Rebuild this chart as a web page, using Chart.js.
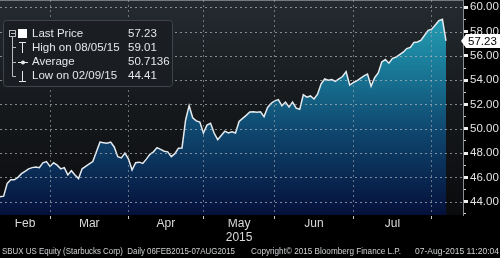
<!DOCTYPE html>
<html>
<head>
<meta charset="utf-8">
<script src="https://cdn.jsdelivr.net/npm/chart.js@4/dist/chart.umd.min.js"></script>
<style>
  html, body { margin: 0; padding: 0; background: #000; }
  canvas { display: block; }
</style>
</head>
<body>
<canvas id="sbuxChart" width="500" height="258"></canvas>
<script>
// SBUX daily closes, one per trading day 06 Feb 2015 .. 07 Aug 2015
const closePrices = [
  44.60, 44.41, 44.45, 45.50, 45.80, 45.80, 46.00, 46.30, 46.50, 46.70,
  46.80, 46.85, 46.80, 47.20, 47.30, 46.90, 47.20, 47.00, 46.70, 46.80,
  46.20, 46.55, 46.20, 45.90, 46.70, 46.90, 47.10, 47.30, 48.10, 48.90,
  48.85, 48.80, 48.90, 48.50, 47.70, 47.60, 48.00, 47.50, 46.60, 47.20,
  47.25, 47.15, 47.50, 47.90, 48.10, 48.45, 48.30, 48.15, 48.10, 47.70,
  47.95, 48.40, 48.42, 50.70, 51.90, 50.90, 50.65, 50.55, 49.65, 50.30,
  50.45, 49.65, 49.10, 49.45, 49.80, 49.65, 49.75, 49.65, 50.60, 50.85,
  51.10, 51.38, 51.40, 51.35, 51.40, 51.00, 51.75, 52.10, 52.30, 52.40,
  51.90, 52.20, 51.80, 52.20, 51.70, 51.60, 52.80, 52.60, 52.70, 52.45,
  52.85, 53.70, 54.10, 54.00, 54.05, 53.90, 54.10, 54.30, 54.70, 53.60,
  53.80, 53.95, 54.15, 54.35, 54.50, 53.50, 54.20, 54.60, 55.50, 55.70,
  55.40, 55.80, 55.90, 56.10, 56.30, 56.60, 56.70, 57.10, 57.15, 57.30,
  57.70, 58.10, 58.20, 58.55, 58.90, 59.01, 57.23
];

// trading-day index of the first session of each month (Mar..Aug)
const monthStarts = [15, 37, 58, 78, 100, 122];
const monthNames = ['Feb', 'Mar', 'Apr', 'May', 'Jun', 'Jul'];
const monthMids = [8, 26, 47.5, 68, 89, 111];
const yMajorTicks = [44, 46, 48, 50, 52, 54, 56, 58, 60];
const yMinorTicks = [43, 45, 47, 49, 51, 53, 55, 57, 59];

const legendRows = [
  ['Last Price', '57.23'],
  ['High on 08/05/15', '59.01'],
  ['Average', '50.7136'],
  ['Low on 02/09/15', '44.41']
];
const lastPrice = 57.23;
const footerLeft = 'SBUX US Equity (Starbucks Corp)  Daily 06FEB2015-07AUG2015';
const footerMid = 'Copyright\u00A9 2015 Bloomberg Finance L.P.';
const footerRight = '07-Aug-2015 11:20:04';

const FONT = '"Liberation Sans", Arial, sans-serif';
const gridColor = 'rgba(165,172,176,0.6)';
const hGridColor = 'rgba(178,184,188,0.7)';
const Y_MIN = 42.9, Y_MAX = 60.6;
const X_MIN = 0.98, X_MAX = 130.77;

const bgPlugin = {
    id: 'bgPlugin',
    beforeDraw(chart) {
        const { ctx, chartArea: a } = chart;
        ctx.save();
        ctx.fillStyle = '#000';
        ctx.fillRect(0, 0, chart.width, chart.height);
        const g = ctx.createLinearGradient(0, a.top, 0, a.bottom);
        g.addColorStop(0, '#242b30');
        g.addColorStop(0.5, '#16191c');
        g.addColorStop(1, '#0a0b0d');
        ctx.fillStyle = g;
        ctx.fillRect(a.left, a.top, a.right - a.left, a.bottom - a.top);
        ctx.restore();
    }
};

const overlayPlugin = {
    id: 'overlayPlugin',
    afterDraw(chart) {
        const { ctx, chartArea: a } = chart;
        const y = chart.scales.y;
        ctx.save();

        // horizontal dashed grid at the labelled y ticks
        ctx.strokeStyle = hGridColor;
        ctx.lineWidth = 1;
        ctx.setLineDash([2, 3]);
        yMajorTicks.forEach(v => {
            const gy = Math.round(y.getPixelForValue(v)) + 0.5;
            ctx.beginPath();
            ctx.moveTo(a.left, gy);
            ctx.lineTo(a.right, gy);
            ctx.stroke();
        });
        ctx.setLineDash([]);

        // legend box
        ctx.beginPath();
        ctx.roundRect(3.5, 20.5, 169, 66, 3);
        ctx.fillStyle = '#1a1e22';
        ctx.fill();
        ctx.strokeStyle = '#3e4449';
        ctx.lineWidth = 1;
        ctx.stroke();

        // tree glyphs
        ctx.strokeStyle = '#b8bcc0';
        ctx.strokeRect(9.5, 30.5, 6, 6);
        ctx.beginPath();
        ctx.moveTo(11, 33.5); ctx.lineTo(15, 33.5);
        ctx.moveTo(12.5, 37); ctx.lineTo(12.5, 76.5);
        ctx.moveTo(12.5, 47.5); ctx.lineTo(16, 47.5);
        ctx.moveTo(12.5, 62.5); ctx.lineTo(16, 62.5);
        ctx.moveTo(12.5, 76.5); ctx.lineTo(16, 76.5);
        ctx.stroke();
        ctx.fillStyle = '#ffffff';
        ctx.fillRect(18, 29, 9, 9);
        ctx.strokeStyle = '#e8e8e8';
        ctx.beginPath();
        ctx.moveTo(19, 42.5); ctx.lineTo(26, 42.5);
        ctx.moveTo(22.5, 42.5); ctx.lineTo(22.5, 53);
        ctx.moveTo(18, 62.5); ctx.lineTo(28, 62.5);
        ctx.moveTo(22.5, 71); ctx.lineTo(22.5, 81.5);
        ctx.moveTo(19, 81.5); ctx.lineTo(26, 81.5);
        ctx.stroke();
        ctx.beginPath();
        ctx.arc(23, 62.5, 2, 0, Math.PI * 2);
        ctx.fillStyle = '#e8e8e8';
        ctx.fill();

        ctx.font = '11.5px ' + FONT;
        ctx.fillStyle = '#e4e6e8';
        ctx.textBaseline = 'middle';
        ctx.textAlign = 'left';
        legendRows.forEach((r, i) => {
            const ty = 34 + i * 14;
            ctx.fillText(r[0], 32, ty, 90);
            ctx.fillText(r[1], 128, ty);
        });

        // last price tag on the axis
        const py = y.getPixelForValue(lastPrice);
        ctx.beginPath();
        ctx.moveTo(461, py);
        ctx.lineTo(466, py - 7);
        ctx.lineTo(500, py - 7);
        ctx.lineTo(500, py + 7);
        ctx.lineTo(466, py + 7);
        ctx.closePath();
        ctx.fillStyle = '#ffffff';
        ctx.fill();
        ctx.fillStyle = '#000';
        ctx.font = '11.5px ' + FONT;
        ctx.fillText('57.23', 468, py + 0.5);

        // footer
        ctx.font = '8.5px ' + FONT;
        ctx.fillStyle = '#d0d2d4';
        ctx.fillText(footerLeft, 2, 252, 233);
        ctx.fillText(footerMid, 251, 252, 150);
        ctx.textAlign = 'right';
        ctx.fillText(footerRight, 499, 252, 85);
        ctx.restore();
    }
};

const ctx = document.getElementById('sbuxChart');
new Chart(ctx, {
    type: 'line',
    data: {
        datasets: [{
            data: closePrices.map((v, i) => ({ x: i, y: v })),
            yAxisID: 'y',
            xAxisID: 'x',
            borderColor: '#e4eaee',
            borderWidth: 1.5,
            pointRadius: 0,
            tension: 0,
            fill: 'start',
            backgroundColor: (c) => {
                const a = c.chart.chartArea;
                if (!a) return '#0f4b74';
                const g = c.chart.ctx.createLinearGradient(0, a.top, 0, a.bottom);
                g.addColorStop(0, '#2aa8bc');
                g.addColorStop(0.3, '#1a7d9a');
                g.addColorStop(0.6, '#0f4870');
                g.addColorStop(1, '#04103a');
                return g;
            }
        }]
    },
    options: {
        responsive: false,
        animation: false,
        devicePixelRatio: 1,
        layout: { padding: 0 },
        plugins: {
            legend: { display: false },
            tooltip: { enabled: false }
        },
        scales: {
            x: {
                type: 'linear',
                min: X_MIN,
                max: X_MAX,
                position: 'bottom',
                weight: 0,
                afterBuildTicks: (s) => { s.ticks = monthStarts.map(v => ({ value: v })); },
                afterFit: (s) => { s.height = 4; },
                ticks: { display: false, autoSkip: false },
                grid: {
                    z: 1,
                    color: gridColor,
                    lineWidth: 1,
                    drawTicks: true,
                    tickLength: 4,
                    tickColor: '#c8c8c8'
                },
                border: { display: true, color: '#c8cacc', width: 1, dash: [2, 3] }
            },
            xm: {
                type: 'linear',
                min: X_MIN,
                max: X_MAX,
                position: 'bottom',
                weight: 1,
                afterBuildTicks: (s) => { s.ticks = monthMids.map(v => ({ value: v })); },
                afterFit: (s) => { s.height = 39; },
                grid: { display: false, drawTicks: false },
                border: { display: false },
                ticks: {
                    autoSkip: false,
                    maxRotation: 0,
                    padding: -2,
                    color: '#d8dadc',
                    font: { family: FONT, size: 12, lineHeight: 1.15 },
                    callback: (v, i) => i === 3 ? ['May', '2015'] : monthNames[i]
                }
            },
            y: {
                position: 'right',
                min: Y_MIN,
                max: Y_MAX,
                weight: 0,
                afterBuildTicks: (s) => { s.ticks = yMajorTicks.map(v => ({ value: v })); },
                afterFit: (s) => {
                    s.width = 37;
                    s.paddingTop = 0;
                    s.paddingBottom = 0;
                },
                ticks: {
                    autoSkip: false,
                    padding: 2,
                    color: '#e0e2e4',
                    font: { family: FONT, size: 11.5 },
                    callback: (v) => v.toFixed(2)
                },
                grid: {
                    drawOnChartArea: false,
                    drawTicks: true,
                    tickLength: 5,
                    tickColor: '#f0f0f0',
                    tickWidth: 3
                },
                border: { display: true, color: '#8a8e92', width: 1 }
            },
            // minor tick marks on the odd values, zero width, next to the plot
            yMinor: {
                position: 'right',
                min: Y_MIN,
                max: Y_MAX,
                weight: -1,
                afterBuildTicks: (s) => { s.ticks = yMinorTicks.map(v => ({ value: v })); },
                afterFit: (s) => {
                    s.width = 0;
                    s.paddingTop = 0;
                    s.paddingBottom = 0;
                },
                ticks: { display: false, autoSkip: false },
                grid: {
                    drawOnChartArea: false,
                    drawTicks: true,
                    tickLength: 3,
                    tickColor: '#d8d8d8',
                    tickWidth: 1
                },
                border: { display: false }
            }
        }
    },
    plugins: [bgPlugin, overlayPlugin]
});
</script>
</body>
</html>
